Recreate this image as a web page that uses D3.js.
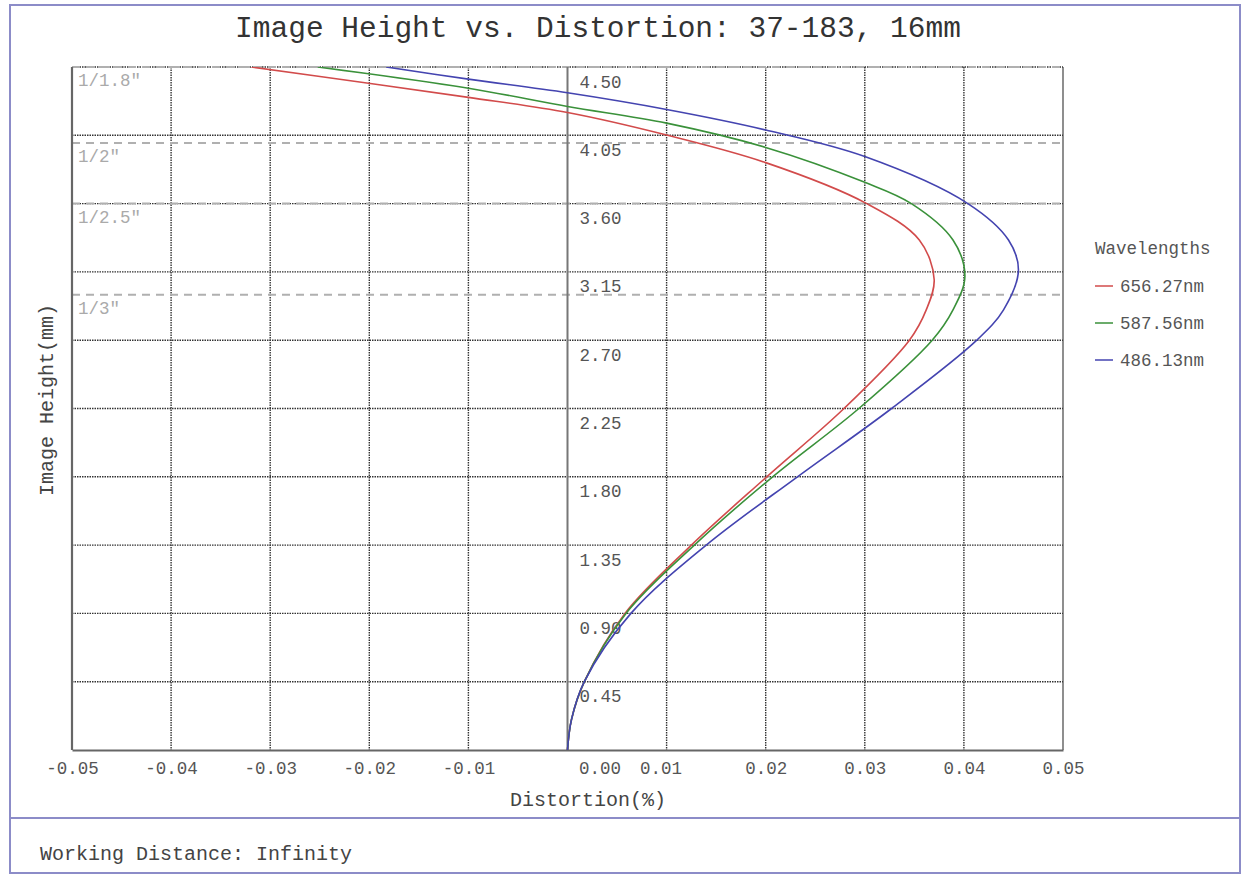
<!DOCTYPE html>
<html>
<head>
<meta charset="utf-8">
<script src="https://cdn.jsdelivr.net/npm/d3@7/dist/d3.min.js"></script>
<style>
  html, body { margin: 0; padding: 0; background: #fff; }
  svg { display: block; }
  text { font-family: "Liberation Mono", "DejaVu Sans Mono", monospace; }
</style>
</head>
<body>
<svg id="chart" width="1249" height="881"></svg>
<script>
// ---------------- DATA ----------------
const title = "Image Height vs. Distortion: 37-183, 16mm";
const xTicks = [-0.05, -0.04, -0.03, -0.02, -0.01, 0.00, 0.01, 0.02, 0.03, 0.04, 0.05];
const yTicks = [0.45, 0.90, 1.35, 1.80, 2.25, 2.70, 3.15, 3.60, 4.05, 4.50];
const wavelengths = ["656.27nm", "587.56nm", "486.13nm"];

// image height (mm) and distortion (%) per wavelength
const redHeight  = [0, 0.2, 0.45, 0.9, 1.35, 1.8, 2.25, 2.7, 2.9, 3.1, 3.36, 3.6, 3.87, 4.05, 4.2, 4.3, 4.4, 4.5];
const redDist    = [0, 0.0004, 0.0017, 0.0058, 0.0125, 0.0201, 0.0279, 0.0345, 0.0362, 0.0370, 0.0355, 0.0302, 0.0200, 0.0101, 0.0000, -0.0100, -0.0208, -0.0319];
const greenHeight = [0, 0.2, 0.45, 0.9, 1.35, 1.8, 2.25, 2.7, 2.9, 3.12, 3.36, 3.6, 3.74, 3.97, 4.13, 4.24, 4.36, 4.5];
const greenDist   = [0, 0.0004, 0.0017, 0.0059, 0.0128, 0.0207, 0.0294, 0.0368, 0.0389, 0.0401, 0.0389, 0.0347, 0.0300, 0.0200, 0.0100, 0.0000, -0.0100, -0.0252];
const blueHeight = [0, 0.2, 0.45, 0.9, 1.35, 1.8, 2.25, 2.7, 2.9, 3.16, 3.36, 3.6, 3.91, 4.085, 4.22, 4.33, 4.42, 4.5];
const blueDist   = [0, 0.0004, 0.0017, 0.0064, 0.0140, 0.0232, 0.0327, 0.0413, 0.0440, 0.0455, 0.0445, 0.0404, 0.0300, 0.0200, 0.0100, 0.0000, -0.0100, -0.0183];

const sensorNames = ["1/1.8\"", "1/2\"", "1/2.5\"", "1/3\""];
const sensorHeights = [4.5, 4.0, 3.6, 3.0];

const footer = "Working Distance: Infinity";

// ---------------- STYLE / LAYOUT ----------------
const colors = ["#d24b4b", "#3a913a", "#4444b0"];
const frameColor = "#8c8cc8";
const plot = { left: 72, right: 1063, top: 67, bottom: 750 };

const svg = d3.select("#chart");

const x = d3.scaleLinear().domain([-0.05, 0.05]).range([plot.left, plot.right]);
const y = d3.scaleLinear().domain([0, 4.5]).range([plot.bottom, plot.top]);
const fmt = d => d3.format(".2f")(d).replace("\u2212", "-");

// frame
svg.append("rect").attr("x", 10).attr("y", 5).attr("width", 1230).attr("height", 868)
  .attr("fill", "#fff").attr("stroke", frameColor).attr("stroke-width", 2);
svg.append("line").attr("x1", 10).attr("x2", 1240).attr("y1", 818).attr("y2", 818)
  .attr("stroke", frameColor).attr("stroke-width", 2);

// title
svg.append("text").attr("x", 598).attr("y", 37).attr("text-anchor", "middle")
  .attr("font-size", 29.5).attr("fill", "#333").text(title);

// grid
const grid = svg.append("g");
grid.selectAll(".vg").data(xTicks.filter(t => t !== 0 && Math.abs(t) < 0.05)).join("line")
  .attr("x1", d => x(d)).attr("x2", d => x(d))
  .attr("y1", plot.top).attr("y2", plot.bottom)
  .attr("stroke", "#333").attr("stroke-width", 1.4).attr("stroke-dasharray", "1.5,1");
grid.selectAll(".hg").data(yTicks).join("line")
  .attr("x1", plot.left).attr("x2", plot.right)
  .attr("y1", d => y(d)).attr("y2", d => y(d))
  .attr("stroke", "#333").attr("stroke-width", 1.4).attr("stroke-dasharray", "1.5,1");

// sensor dashed lines
const sens = svg.append("g");
sens.selectAll("line").data(sensorHeights).join("line")
  .attr("x1", plot.left).attr("x2", plot.right)
  .attr("y1", d => y(d)).attr("y2", d => y(d))
  .attr("stroke", "#b0b0b0").attr("stroke-width", 2).attr("stroke-dasharray", "8,6");
sens.selectAll("text").data(sensorNames).join("text")
  .attr("x", plot.left + 6).attr("y", (d, i) => y(sensorHeights[i]) + 19)
  .attr("font-size", 17.5).attr("fill", "#aaa").text(d => d);

// borders
svg.append("line").attr("x1", plot.right).attr("x2", plot.right).attr("y1", plot.top).attr("y2", plot.bottom)
  .attr("stroke", "#444").attr("stroke-width", 1.2);
svg.append("line").attr("x1", plot.left).attr("x2", plot.left).attr("y1", plot.top).attr("y2", plot.bottom)
  .attr("stroke", "#666").attr("stroke-width", 2.2);
svg.append("line").attr("x1", x(0)).attr("x2", x(0)).attr("y1", plot.top).attr("y2", plot.bottom)
  .attr("stroke", "#777").attr("stroke-width", 2);

// x axis
const xAxis = svg.append("g").attr("transform", `translate(0,${plot.bottom})`)
  .call(d3.axisBottom(x).tickValues(xTicks).tickSize(0).tickPadding(12).tickFormat(fmt));
xAxis.select(".domain").attr("stroke", "#666").attr("stroke-width", 2.2);
xAxis.selectAll(".tick text")
  .attr("font-family", "Liberation Mono, monospace").attr("font-size", 17.5).attr("fill", "#555")
  .attr("dx", d => d === 0 ? 32 : (Math.abs(d - 0.01) < 1e-9 ? -6 : 0));

// y axis (labels inside plot, right of zero line)
const yAxis = svg.append("g").attr("transform", `translate(${x(0)},0)`)
  .call(d3.axisRight(y).tickValues(yTicks).tickSize(0).tickPadding(12).tickFormat(fmt));
yAxis.select(".domain").remove();
yAxis.selectAll(".tick text")
  .attr("font-family", "Liberation Mono, monospace").attr("font-size", 17.5).attr("fill", "#555")
  .attr("dy", 20);

// axis titles
svg.append("text").attr("x", 588).attr("y", 806).attr("text-anchor", "middle")
  .attr("font-size", 20).attr("fill", "#444").text("Distortion(%)");
svg.append("text").attr("transform", "translate(53,400) rotate(-90)").attr("text-anchor", "middle")
  .attr("font-size", 20).attr("fill", "#444").text("Image Height(mm)");

// curves
const series = [
  { h: redHeight, d: redDist },
  { h: greenHeight, d: greenDist },
  { h: blueHeight, d: blueDist }
];
const line = d3.line().x(p => x(p[0])).y(p => y(p[1])).curve(d3.curveCatmullRom.alpha(0.5));
svg.append("clipPath").attr("id", "clip").append("rect")
  .attr("x", plot.left).attr("y", plot.top).attr("width", plot.right - plot.left).attr("height", plot.bottom - plot.top);
svg.append("g").attr("clip-path", "url(#clip)").selectAll("path").data(series).join("path")
  .attr("d", s => line(s.h.map((hv, i) => [s.d[i], hv])))
  .attr("fill", "none").attr("stroke", (s, i) => colors[i]).attr("stroke-width", 1.6);

// legend
const leg = svg.append("g");
leg.append("text").attr("x", 1095).attr("y", 254).attr("font-size", 17.5).attr("fill", "#555").text("Wavelengths");
wavelengths.forEach((w, i) => {
  const yy = 286 + i * 37;
  leg.append("line").attr("x1", 1095).attr("x2", 1113).attr("y1", yy).attr("y2", yy)
    .attr("stroke", colors[i]).attr("stroke-width", 1.5);
  leg.append("text").attr("x", 1120).attr("y", yy + 6).attr("font-size", 17.5).attr("fill", "#555").text(w);
});

// footer
svg.append("text").attr("x", 40).attr("y", 860).attr("font-size", 20).attr("fill", "#444").text(footer);
</script>
</body>
</html>
